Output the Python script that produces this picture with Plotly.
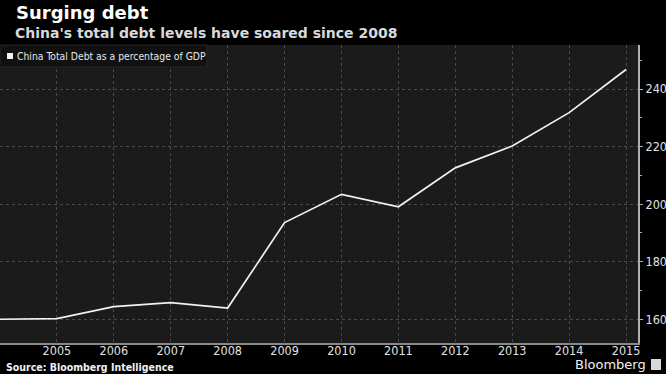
import plotly.graph_objects as go

# ---- data ----
years = [2004, 2005, 2006, 2007, 2008, 2009, 2010, 2011, 2012, 2013, 2014, 2015]
debt_pct_gdp = [160.0, 160.2, 164.4, 165.8, 163.9, 193.6, 203.4, 199.1, 212.6, 220.2, 231.8, 246.8]
x_tick_years = [2005, 2006, 2007, 2008, 2009, 2010, 2011, 2012, 2013, 2014, 2015]
y_tick_vals = [160, 180, 200, 220, 240]

title_text = "Surging debt"
subtitle_text = "China's total debt levels have soared since 2008"
legend_text = "China Total Debt as a percentage of GDP"
source_text = "Source: Bloomberg Intelligence"

W, H = 666, 374
ML, MR, MT, MB = 0, 28, 45, 31
PW = W - ML - MR
PH = H - MT - MB

def px(x):
    return (x - ML) / PW

def py(y):
    return (H - MB - y) / PH

NARROW = "Liberation Sans Narrow, DejaVu Sans Condensed, Arial Narrow, sans-serif"
BOLD = "DejaVu Sans, Verdana, sans-serif"

fig = go.Figure()
fig.add_trace(go.Scatter(
    x=years, y=debt_pct_gdp, mode="lines",
    line=dict(color="#f2f2f2", width=1.7),
    showlegend=False, hoverinfo="x+y",
))

fig.update_layout(
    width=W, height=H,
    margin=dict(l=ML, r=MR, t=MT, b=MB, pad=0),
    paper_bgcolor="#000000",
    plot_bgcolor="#1b1b1b",
    showlegend=False,
    xaxis=dict(
        range=[2004, 2015.21],
        tickvals=x_tick_years,
        ticktext=[str(v) for v in x_tick_years],
        showgrid=True, gridcolor="#4a4a4a", griddash="dot", gridwidth=1,
        showline=True, linecolor="#8a8a8a", linewidth=2,
        ticks="", zeroline=False,
        tickfont=dict(family=NARROW, size=12.5, color="#e0e0e0"),
        ticklabelstandoff=-5,
    ),
    yaxis=dict(
        side="right",
        range=[151.75, 255.3],
        tickvals=y_tick_vals,
        showgrid=True, gridcolor="#4a4a4a", griddash="dot", gridwidth=1,
        showline=True, linecolor="#b0b0b0", linewidth=2,
        ticks="outside", ticklen=3, tickcolor="#b0b0b0", tickwidth=1,
        minor=dict(dtick=10, tick0=150, ticks="outside", ticklen=2,
                   tickcolor="#b0b0b0", showgrid=False),
        zeroline=False,
        tickfont=dict(family=NARROW, size=12.5, color="#e0e0e0"),
    ),
)

shapes = [
    dict(type="rect", xref="paper", yref="paper",
         x0=px(0), x1=px(207), y0=py(67), y1=py(45),
         fillcolor="#111111", line=dict(color="#262626", width=1), layer="above"),
    dict(type="rect", xref="paper", yref="paper",
         x0=px(7), x1=px(13), y0=py(59), y1=py(53),
         fillcolor="#f2f2f2", line=dict(width=0), layer="above"),
    dict(type="rect", xref="paper", yref="paper",
         x0=px(651), x1=px(661), y0=py(370), y1=py(359),
         fillcolor="#d8d8d8", line=dict(width=0), layer="above"),
]

annotations = [
    dict(text=title_text, xref="paper", yref="paper", x=px(14), y=py(13),
         xanchor="left", yanchor="middle", showarrow=False,
         font=dict(family=BOLD, size=18, color="#ffffff", weight="bold")),
    dict(text=subtitle_text, xref="paper", yref="paper", x=px(13), y=py(32.5),
         xanchor="left", yanchor="middle", showarrow=False,
         font=dict(family=BOLD, size=14, color="#d9d9d9", weight="bold")),
    dict(text=legend_text, xref="paper", yref="paper", x=px(15), y=py(56),
         xanchor="left", yanchor="middle", showarrow=False,
         font=dict(family=NARROW, size=10.3, color="#e6e6e6")),
    dict(text=source_text, xref="paper", yref="paper", x=px(4), y=py(366.5),
         xanchor="left", yanchor="middle", showarrow=False,
         font=dict(family="DejaVu Sans Condensed, DejaVu Sans, sans-serif", size=10.5,
                   color="#f0f0f0", weight="bold")),
    dict(text="Bloomberg", xref="paper", yref="paper", x=px(648), y=py(364.5),
         xanchor="right", yanchor="middle", showarrow=False,
         font=dict(family="DejaVu Sans, sans-serif", size=13, color="#f0f0f0")),
]

fig.update_layout(shapes=shapes, annotations=annotations)
fig.write_html("out.html", config={"displayModeBar": False},
               post_script="document.body.style.margin='0';document.body.style.background='#000';")
